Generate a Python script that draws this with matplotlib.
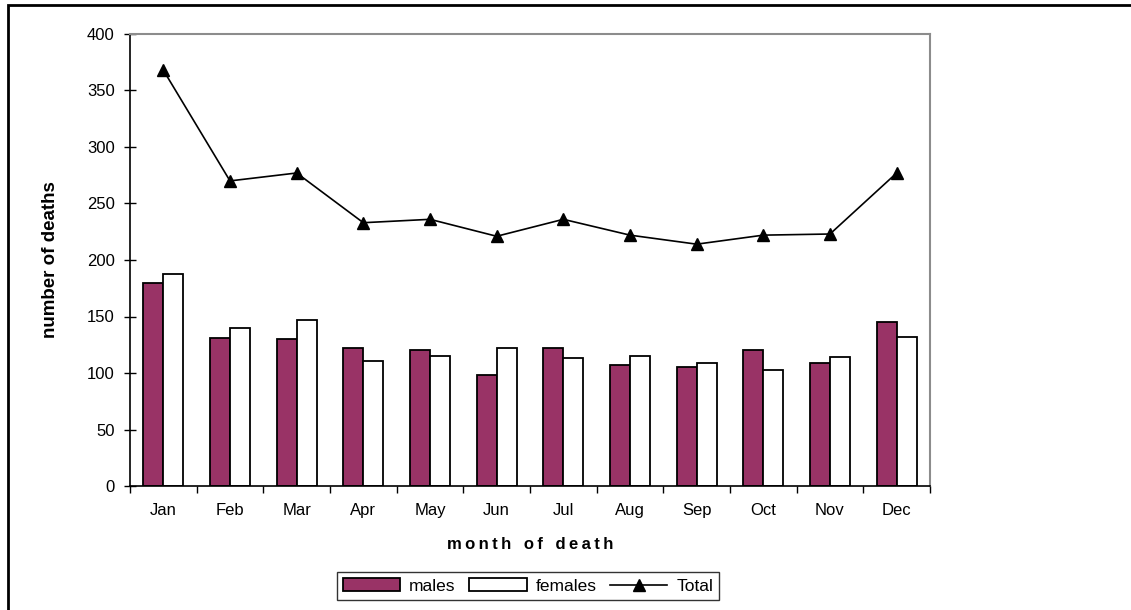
import numpy as np
import matplotlib.pyplot as plt
from matplotlib.patches import Rectangle

plt.rcParams['font.family'] = ['Liberation Sans', 'DejaVu Sans']

# data
months = ['Jan', 'Feb', 'Mar', 'Apr', 'May', 'Jun', 'Jul', 'Aug', 'Sep', 'Oct', 'Nov', 'Dec']
males = [180, 131, 130, 122, 120, 98, 122, 107, 105, 120, 109, 145]
females = [188, 140, 147, 111, 115, 122, 113, 115, 109, 103, 114, 132]
total = [368, 270, 277, 233, 236, 221, 236, 222, 214, 222, 223, 277]

fig = plt.figure(figsize=(11.31, 6.10), dpi=100)
ax = fig.add_axes([130 / 1131, 1 - 486 / 610, 800 / 1131, 452 / 610])

x = np.arange(len(months))
w = 0.3
b1 = ax.bar(x - w / 2, males, w, color='#993366', edgecolor='black', linewidth=1.3, label='males')
b2 = ax.bar(x + w / 2, females, w, color='white', edgecolor='black', linewidth=1.3, label='females')
ln, = ax.plot(x, total, color='black', linewidth=1.2, marker='^', markersize=8, label='Total')

ax.set_xlim(-0.5, len(months) - 0.5)
ax.set_ylim(0, 400)
ax.set_yticks(range(0, 401, 50))
ax.set_xticks(x)
ax.set_xticklabels(months)
ax.set_xticks(np.arange(-0.5, len(months)), minor=True)
ax.tick_params(axis='x', which='major', length=0, pad=12, labelsize=12)
ax.tick_params(axis='x', which='minor', length=5, direction='out', width=1)
ax.tick_params(axis='y', length=8, direction='inout', width=1, labelsize=12, pad=7)

for s in ['top', 'right']:
    ax.spines[s].set_color('#8c8c8c')
    ax.spines[s].set_linewidth(1.5)
for s in ['left', 'bottom']:
    ax.spines[s].set_color('black')
    ax.spines[s].set_linewidth(1.2)

# letter-spaced bold axis title, like the original
xlab = ' \u2009 '.join('\u2009'.join(word) for word in 'month of death'.split())
ax.set_xlabel(xlab, fontsize=12, fontweight='bold', labelpad=14)
ax.set_ylabel('number of deaths', fontsize=13.5, fontweight='bold', labelpad=20)

leg = fig.legend(handles=[b1, b2, ln], loc='center', bbox_to_anchor=(528 / 1131, 1 - 586 / 610),
                 ncol=3, frameon=True, fancybox=False, edgecolor='black', fontsize=12.5,
                 handlelength=3.3, handletextpad=0.5, columnspacing=0.8, borderpad=0.35)
leg.get_frame().set_linewidth(1.0)

# outer chart border
fig.patches.append(Rectangle((8 / 1131, -0.1), 1.2, 1 - 5 / 610 + 0.1, transform=fig.transFigure,
                             fill=False, edgecolor='black', linewidth=2))

fig.savefig('out.png', dpi=100)
